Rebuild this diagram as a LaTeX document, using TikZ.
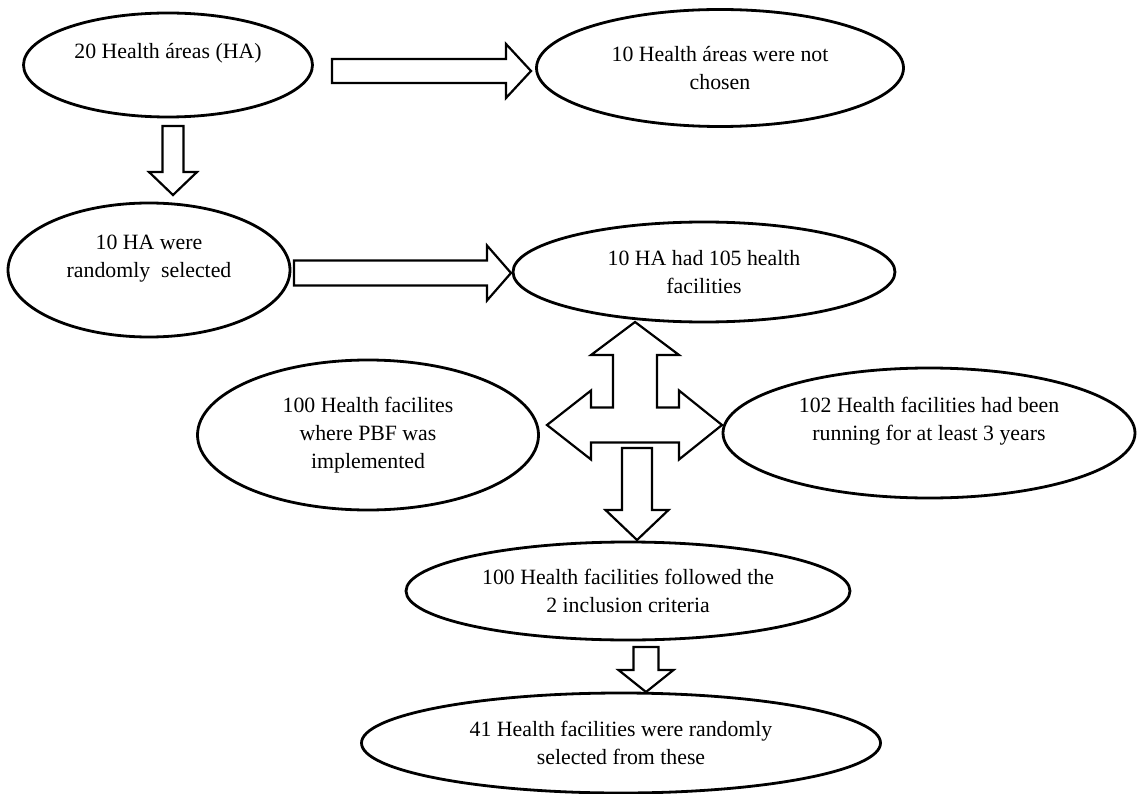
\documentclass[tikz,border=0pt]{standalone}
\usepackage{fontspec}
\setmainfont{Liberation Serif}
\usetikzlibrary{shapes.geometric,calc}

% hollow block arrow: start, tip, half shaft, half head, head length
\newcommand{\blockarrow}[5]{%
  \coordinate (hb) at ($(#2)!#5!(#1)$);
  \draw[blockline] ($(#1)!#3!90:(#2)$) -- ($(hb)!#3!90:(#2)$) -- ($(hb)!#4!90:(#2)$) -- (#2)
    -- ($(hb)!#4!-90:(#2)$) -- ($(hb)!#3!-90:(#2)$) -- ($(#1)!#3!-90:(#2)$) -- cycle;
}

\begin{document}
\begin{tikzpicture}[x=1pt,y=-1pt]
\tikzstyle{bubble}=[ellipse,draw,line width=2.8pt,inner sep=0pt,align=center,font=\fontsize{21.8}{28}\selectfont];
\tikzstyle{blockline}=[line width=2.2pt,line join=miter];
\fill[white] (0,0) rectangle (1137,794);
\useasboundingbox (0,0) rectangle (1137,794);
\node[bubble,minimum width=289,minimum height=104](e1) at (168,65){20 Health áreas (HA)\\ ~};
\node[bubble,minimum width=367,minimum height=117](e2) at (720,68){10 Health áreas were not\\ chosen};
\node[bubble,minimum width=282,minimum height=134](e3) at (149,270){10 HA were\\ randomly~ selected\\ ~};
\node[bubble,minimum width=382,minimum height=100](e4) at (704,272){10 HA had 105 health\\ facilities};
\node[bubble,minimum width=341,minimum height=150](e5) at (368,435){100 Health facilites\\ where PBF was\\ implemented};
\node[bubble,minimum width=412,minimum height=130](e6) at (929,433){102 Health facilities had been\\ running for at least 3 years\\ ~};
\node[bubble,minimum width=444,minimum height=98](e7) at (628,591){100 Health facilities followed the\\ 2 inclusion criteria};
\node[bubble,minimum width=519,minimum height=100](e8) at (621,743){41 Health facilities were randomly\\ selected from these};
\coordinate (a1s) at (332,71);
\coordinate (a1t) at (531,71);
\coordinate (a2s) at (173,126);
\coordinate (a2t) at (173,195);
\coordinate (a3s) at (294,273);
\coordinate (a3t) at (511,273);
\coordinate (a4s) at (637,448);
\coordinate (a4t) at (637,540);
\coordinate (a5s) at (646,647);
\coordinate (a5t) at (646,692);
\coordinate (hub) at (635,425);
\blockarrow{a1s}{a1t}{12pt}{27pt}{25pt}
\blockarrow{a2s}{a2t}{10.5pt}{24pt}{23pt}
\blockarrow{a3s}{a3t}{12.5pt}{27.5pt}{24pt}
\blockarrow{a4s}{a4t}{15pt}{31.5pt}{30pt}
\blockarrow{a5s}{a5t}{12.5pt}{27.5pt}{22pt}
\draw[blockline,shift={(hub)}] (0,-103) -- (44,-70) -- (22,-70) -- (22,-17.5) -- (44,-17.5) -- (44,-34.5) -- (87,0)
  -- (44,34.5) -- (44,17.5) -- (-44,17.5) -- (-44,34.5) -- (-88,0) -- (-44,-34.5) -- (-44,-17.5)
  -- (-22,-17.5) -- (-22,-70) -- (-44,-70) -- cycle;
\end{tikzpicture}
\end{document}
